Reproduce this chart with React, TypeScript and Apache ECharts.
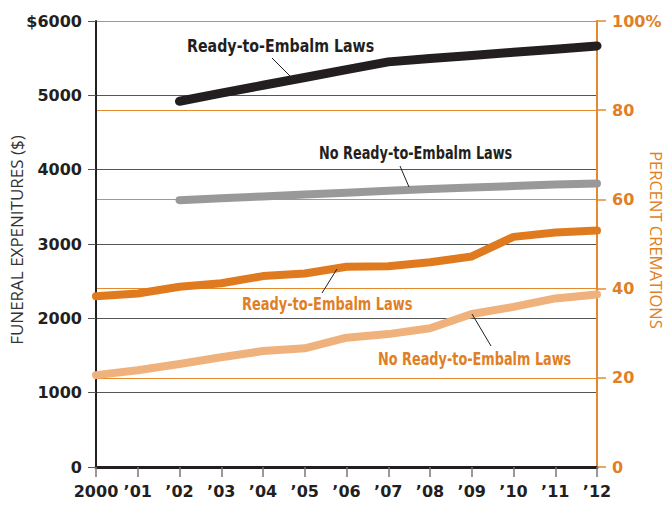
import React, { useEffect, useRef } from "react";
import * as echarts from "echarts";

const years = ["2000", "’01", "’02", "’03", "’04", "’05", "’06", "’07", "’08", "’09", "’10", "’11", "’12"];
// Funeral expenditures ($), left axis
const costEmbalm = [null, null, 4920, 5030, 5135, 5240, 5345, 5450, 5495, 5535, 5580, 5620, 5665];
const costNoEmbalm = [null, null, 3590, 3615, 3640, 3665, 3690, 3715, 3740, 3760, 3780, 3800, 3815];
// Percent cremations, right axis
const cremEmbalm = [38.3, 38.9, 40.4, 41.2, 42.8, 43.4, 44.9, 45.0, 45.9, 47.2, 51.6, 52.6, 53.0];
const cremNoEmbalm = [20.6, 21.7, 23.1, 24.6, 26.0, 26.6, 29.0, 29.8, 31.1, 34.3, 35.9, 37.8, 38.7];

const BLACK = "#231f20";
const GRAY = "#999999";
const ORANGE = "#e07a1f";
const LIGHT = "#f0b27c";
const AXIS_OR = "#e5892f";
const TEXT_OR = "#e07f25";
const NUM_FONT = "DejaVu Sans";

export default function App() {
  const ref = useRef<HTMLDivElement>(null);
  useEffect(() => {
    if (!ref.current) return;
    const chart = echarts.init(ref.current, null, { renderer: "svg" });
    const lineSeries = (name: string, data: any[], color: string, width: number, yAxisIndex: number) => ({
      name,
      type: "line",
      data,
      yAxisIndex,
      showSymbol: false,
      symbol: "none",
      lineStyle: { color, width, cap: "round", join: "round" },
      z: 5,
    });
    const label = (text: string, x: number, y: number, fill: string, sx: number) => ({
      type: "text",
      x,
      y,
      scaleX: sx,
      z: 10,
      style: {
        text,
        fill,
        fontFamily: "DejaVu Sans",
        fontWeight: "bold",
        fontSize: 18,
        textAlign: "left",
        textVerticalAlign: "middle",
      },
    });
    chart.setOption({
      animation: false,
      backgroundColor: "#ffffff",
      grid: { left: 96, right: 70, top: 21, bottom: 38 },
      xAxis: {
        type: "category",
        data: years,
        boundaryGap: false,
        axisLine: { lineStyle: { color: BLACK, width: 3 } },
        axisTick: { show: true, length: 10, interval: 0, lineStyle: { color: "#777", width: 1.5 } },
        axisLabel: {
          interval: 0,
          hideOverlap: false,
          margin: 16,
          color: BLACK,
          fontFamily: NUM_FONT,
          fontWeight: "bold",
          fontSize: 16,
        },
        splitLine: { show: false },
      },
      yAxis: [
        {
          type: "value",
          min: 0,
          max: 6000,
          interval: 1000,
          position: "left",
          axisLine: { show: true, lineStyle: { color: BLACK, width: 2 } },
          axisTick: { show: true, length: 8, lineStyle: { color: "#555", width: 1 } },
          splitLine: { show: true, lineStyle: { color: "#555", width: 1 } },
          axisLabel: {
            margin: 14,
            color: BLACK,
            fontFamily: NUM_FONT,
            fontWeight: "bold",
            fontSize: 16,
            formatter: (v: number) => (v === 6000 ? "$6000" : String(v)),
          },
        },
        {
          type: "value",
          min: 0,
          max: 100,
          interval: 20,
          position: "right",
          axisLine: { show: true, lineStyle: { color: AXIS_OR, width: 2 } },
          axisTick: { show: true, length: 9, lineStyle: { color: AXIS_OR, width: 1.5 } },
          splitLine: { show: true, lineStyle: { color: AXIS_OR, width: 1 } },
          axisLabel: {
            margin: 15,
            color: TEXT_OR,
            fontFamily: NUM_FONT,
            fontWeight: "bold",
            fontSize: 16,
            formatter: (v: number) => (v === 100 ? "100%" : String(v)),
          },
        },
      ],
      series: [
        lineSeries("Ready-to-Embalm Laws ($)", costEmbalm, BLACK, 9, 0),
        lineSeries("No Ready-to-Embalm Laws ($)", costNoEmbalm, GRAY, 8, 0),
        lineSeries("Ready-to-Embalm Laws (%)", cremEmbalm, ORANGE, 8, 1),
        lineSeries("No Ready-to-Embalm Laws (%)", cremNoEmbalm, LIGHT, 8, 1),
      ],
      graphic: [
        {
          type: "text",
          x: 16,
          y: 240,
          rotation: Math.PI / 2,
          style: {
            text: "FUNERAL EXPENITURES ($)",
            fill: "#333",
            fontFamily: "Open Sans",
            fontSize: 17,
            textAlign: "center",
            textVerticalAlign: "middle",
          },
        },
        {
          type: "text",
          x: 656,
          y: 240,
          rotation: -Math.PI / 2,
          style: {
            text: "PERCENT CREMATIONS",
            fill: TEXT_OR,
            fontFamily: "Open Sans",
            fontSize: 16.5,
            textAlign: "center",
            textVerticalAlign: "middle",
          },
        },
        label("Ready-to-Embalm Laws", 187, 46, BLACK, 0.79),
        label("No Ready-to-Embalm Laws", 319, 153, BLACK, 0.715),
        label("Ready-to-Embalm Laws", 242, 304, TEXT_OR, 0.72),
        label("No Ready-to-Embalm Laws", 378, 359, TEXT_OR, 0.715),
        { type: "line", z: 10, shape: { x1: 272, y1: 58, x2: 291, y2: 77 }, style: { stroke: BLACK, lineWidth: 1 } },
        { type: "line", z: 10, shape: { x1: 400, y1: 166, x2: 409, y2: 187 }, style: { stroke: BLACK, lineWidth: 1 } },
        { type: "line", z: 10, shape: { x1: 337, y1: 269, x2: 322, y2: 293 }, style: { stroke: BLACK, lineWidth: 1 } },
        { type: "line", z: 10, shape: { x1: 472, y1: 314, x2: 491, y2: 346 }, style: { stroke: BLACK, lineWidth: 1 } },
      ],
    });
    return () => chart.dispose();
  }, []);
  return <div ref={ref} style={{ position: "fixed", left: 0, top: 0, width: 667, height: 505 }} />;
}
